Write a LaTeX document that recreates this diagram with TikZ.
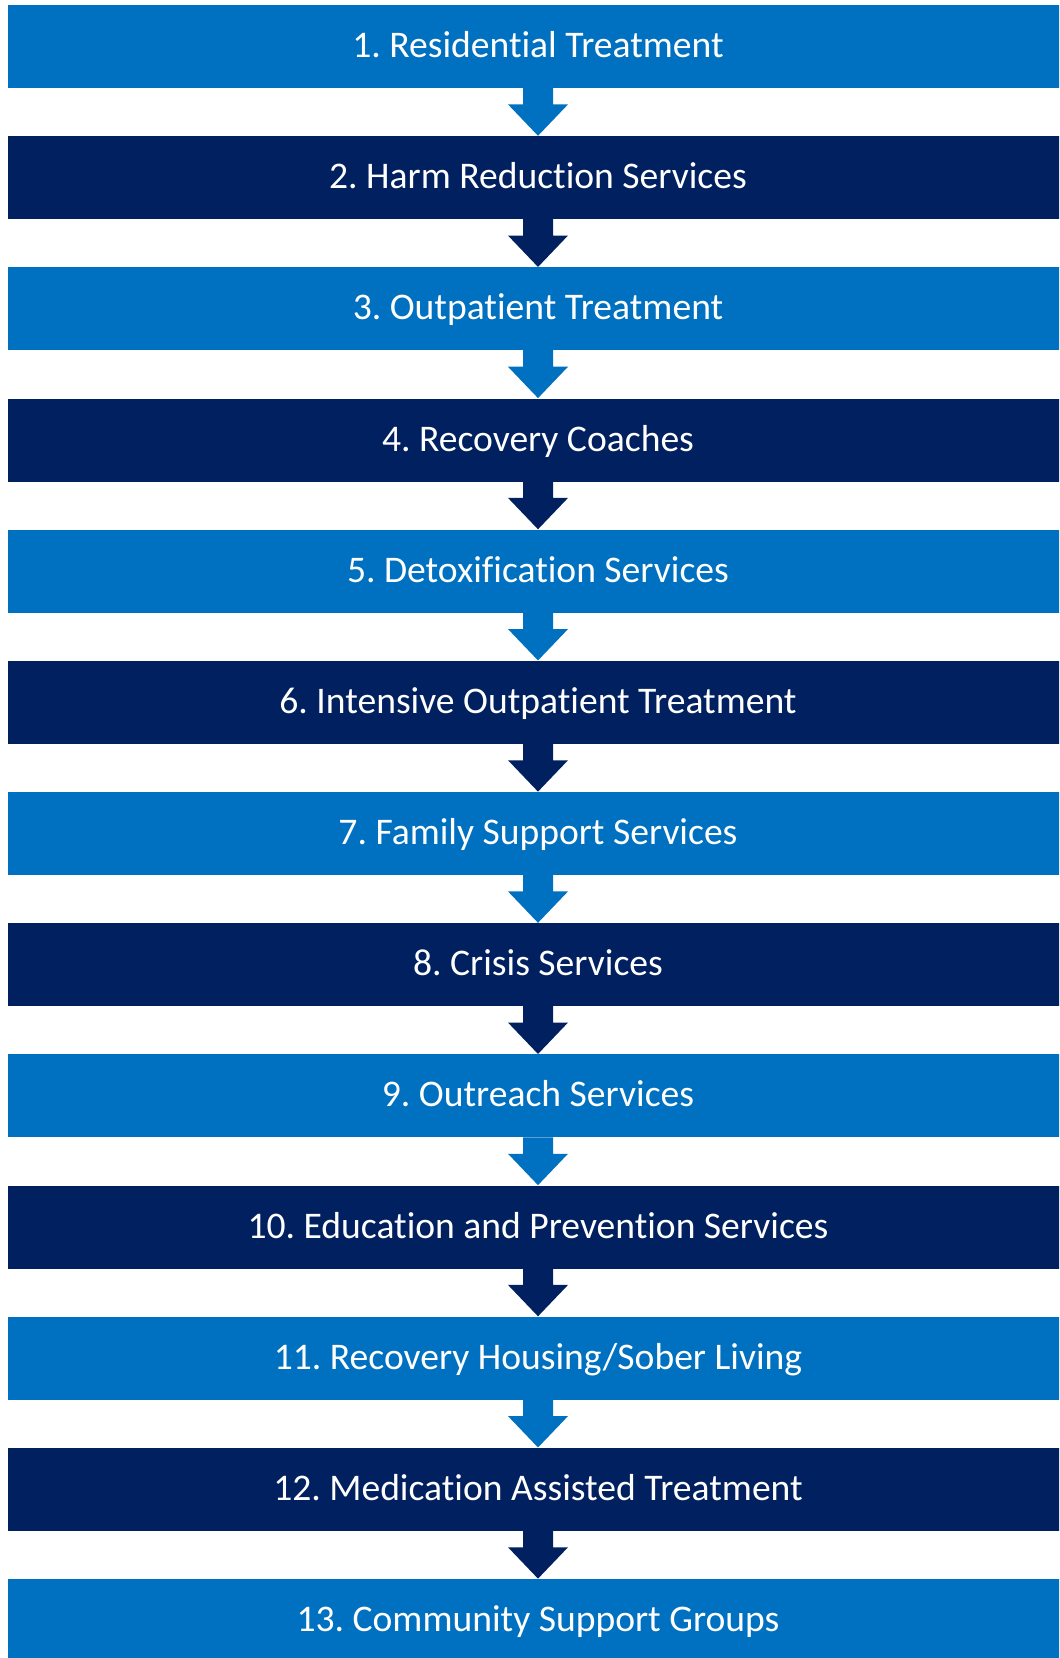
\documentclass[tikz,border=0pt]{standalone}
\usepackage{fontspec}
\setmainfont[Ligatures={NoCommon}]{Carlito}
\usetikzlibrary{calc}
\definecolor{lightblue}{HTML}{0070C0}
\definecolor{darkblue}{HTML}{002060}
\tikzset{
  stagebox/.style={rectangle, inner sep=0pt, minimum width=530pt, minimum height=41.5pt,
    text=white, font=\frenchspacing\fontsize{18.8pt}{22pt}\selectfont, text height=13.5pt, text depth=2.5pt},
}
\begin{document}
\begin{tikzpicture}[x=0.5pt,y=-0.5pt]
\useasboundingbox (0,0) rectangle (1059,1658);
\clip (0,0) rectangle (1059,1658);
\foreach [count=\i] \t in {1. Residential Treatment,2. Harm Reduction Services,3. Outpatient Treatment,4. Recovery Coaches,5. Detoxification Services,6. Intensive Outpatient Treatment,7. Family Support Services,8. Crisis Services,9. Outreach Services,10. Education and Prevention Services,11. Recovery Housing/Sober Living,12. Medication Assisted Treatment,13. Community Support Groups}{
  \pgfmathsetmacro{\yy}{46.5+131.17*(\i-1)}
  \ifodd\i
    \node[stagebox, fill=lightblue] (b\i) at (538,\yy) {\t};
  \else
    \node[stagebox, fill=darkblue] (b\i) at (538,\yy) {\t};
  \fi
}
\foreach \i in {1,...,12}{
  \pgfmathtruncatemacro{\j}{\i+1}
  \ifodd\i
    \def\ac{lightblue}
  \else
    \def\ac{darkblue}
  \fi
  \fill[\ac] ($(b\i.south)+(-15,-0.5)$) -- ($(b\i.south)+(-15,16)$) -- ($(b\i.south)+(-30,16)$)
    -- (b\j.north) -- ($(b\i.south)+(30,16)$) -- ($(b\i.south)+(15,16)$) -- ($(b\i.south)+(15,-0.5)$) -- cycle;
}
\end{tikzpicture}
\end{document}
